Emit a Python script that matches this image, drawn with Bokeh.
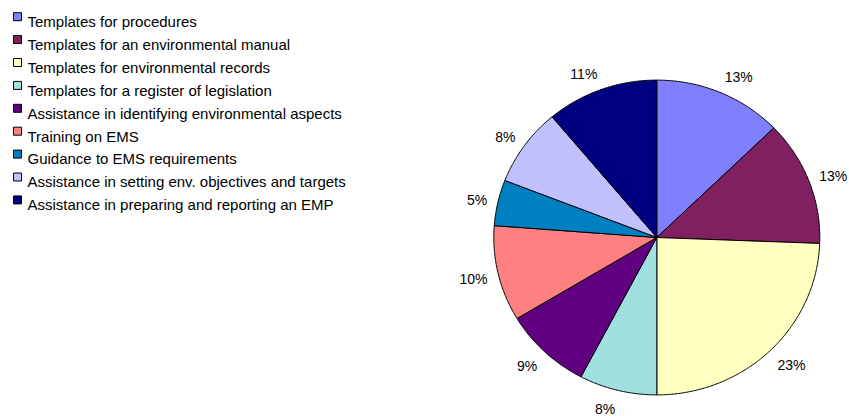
import numpy as np
from bokeh.plotting import figure
from bokeh.models import Range1d, ColumnDataSource
from bokeh.core.properties import value
from bokeh.embed import file_html
from bokeh.resources import INLINE

# ---- data ----
categories = [
    "Templates for procedures",
    "Templates for an environmental manual",
    "Templates for environmental records",
    "Templates for a register of legislation",
    "Assistance in identifying environmental aspects",
    "Training on EMS",
    "Guidance to EMS requirements",
    "Assistance in setting env. objectives and targets",
    "Assistance in preparing and reporting an EMP",
]
shares = [12.75, 12.85, 24.4, 7.7, 8.7, 9.8, 4.7, 8.0, 11.1]
pct_labels = ["13%", "13%", "23%", "8%", "9%", "10%", "5%", "8%", "11%"]
colors = ["#8080FF", "#802060", "#FFFFC0", "#A0E0E0", "#600080",
          "#FF8080", "#0080C0", "#C0C0FF", "#000080"]

# ---- layout ----
W, H = 849, 416
FONT = "Liberation Sans"
p = figure(width=W, height=H, x_range=Range1d(0, W), y_range=Range1d(H, 0),
           x_axis_type=None, y_axis_type=None, output_backend="svg",
           toolbar_location=None, min_border=0)
p.grid.visible = False
p.outline_line_color = None
p.background_fill_color = "white"
p.border_fill_color = "white"

cx, cy = 656.3, 237.0
rx, ry = 163.0, 157.4

vals = np.array(shares, dtype=float)
frac = vals / vals.sum()
ends = np.cumsum(frac) * 2 * np.pi
starts = ends - frac * 2 * np.pi

xs, ys = [], []
for a0, a1 in zip(starts, ends):
    t = np.linspace(a0, a1, max(8, int((a1 - a0) * 120)))
    xs.append([cx] + list(cx + rx * np.sin(t)))
    ys.append([cy] + list(cy - ry * np.cos(t)))

p.patches(xs=xs, ys=ys, fill_color=colors, line_color="black", line_width=1)

# percentage labels
mid = (starts + ends) / 2
lx = cx + (rx + 11) * np.sin(mid)
ly = cy - (ry + 18) * np.cos(mid) + 1.5
right_side = np.sin(mid) > 0
for mask, align in ((right_side, "left"), (~right_side, "right")):
    src = ColumnDataSource(dict(x=lx[mask], y=ly[mask],
                                t=[pct_labels[i] for i in np.where(mask)[0]]))
    p.text(x="x", y="y", text="t", source=src, text_align=align,
           text_baseline="middle", text_font=value(FONT),
           text_font_size="14px", text_color="black")

# legend
n = len(categories)
ly0 = np.array([16.2 + 22.9 * i for i in range(n)])
p.scatter(x=[17.0] * n, y=list(ly0), marker="square", size=8,
          fill_color=colors, line_color="black", line_width=1)
p.text(x=[27.0] * n, y=list(ly0 + 4.8), text=categories, text_align="left",
       text_baseline="alphabetic", text_font=value(FONT),
       text_font_size="15px", text_color="black")

open("out.html", "w").write(file_html(p, INLINE))
